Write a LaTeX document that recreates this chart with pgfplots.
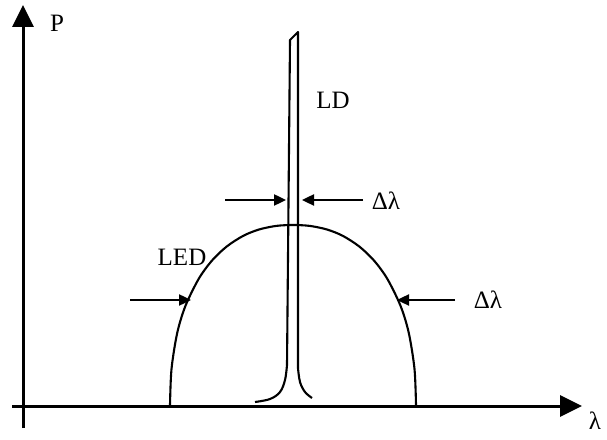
\documentclass[border=0pt]{standalone}
\usepackage{fontspec}
\setmainfont{Liberation Serif}
\usepackage{pgfplots}
\pgfplotsset{compat=1.18}
\usetikzlibrary{arrows.meta}
\begin{document}
\begin{tikzpicture}
\begin{axis}[
  width=607pt, height=439pt, scale only axis,
  xmin=0, xmax=607, ymin=0, ymax=439,
  hide axis, clip=false,
]
% frame for bounding box
\addplot[draw=none] coordinates {(0,0) (607,439)};
% axes
\addplot[line width=3pt, -{Triangle[length=22pt,width=21pt]}] coordinates {(23,11) (23,434)};
\addplot[line width=3pt, -{Triangle[length=22pt,width=21pt]}] coordinates {(12,33) (582,33)};
% LED dome
\addplot[line width=2.1pt, smooth, tension=0.5] coordinates {
 (170,34) (171.5,70) (177.2,106) (185.4,133) (198.6,160) (211.6,178)
 (226.6,192.4) (243.3,203.2) (259,209.5) (276.3,213.1) (293,214)
 (309.7,213.1) (327,209.5) (342.7,203.2) (359.4,192.4) (374.4,178)
 (387.4,160) (400.6,133) (408.8,106) (414.5,70) (416,34)};
% LD spike
\addplot[line width=2.1pt, smooth, tension=0.6] coordinates {(255,37) (270,40) (280,47) (285,59) (287,74)};
\addplot[line width=2.1pt, line join=round] coordinates {(287,74) (290,399) (298,407) (298,71)};
\addplot[line width=2.1pt, smooth, tension=0.6] coordinates {(298,71) (300,57) (305,47) (312,41)};
% width arrows
\addplot[line width=2.4pt, -{Triangle[length=12pt,width=11pt]}] coordinates {(225,239) (286,239)};
\addplot[line width=2.4pt, -{Triangle[length=12pt,width=11pt]}] coordinates {(363,239) (302,239)};
\addplot[line width=2.4pt, -{Triangle[length=12pt,width=11pt]}] coordinates {(130,139) (191,139)};
\addplot[line width=2.4pt, -{Triangle[length=12pt,width=11pt]}] coordinates {(455,139) (397,139)};
% labels
\node[font=\fontsize{25}{29}\selectfont] at (axis cs:57,416) {P};
\node[font=\fontsize{25}{29}\selectfont, inner sep=0pt] at (axis cs:595,18) {λ};
\node[font=\fontsize{25}{29}\selectfont] at (axis cs:333,339) {LD};
\node[font=\fontsize{25}{29}\selectfont] at (axis cs:182,182) {LED};
\node[font=\fontsize{25}{29}\selectfont] at (axis cs:386,238) {Δλ};
\node[font=\fontsize{25}{29}\selectfont] at (axis cs:488,139) {Δλ};
\end{axis}
\end{tikzpicture}
\end{document}
